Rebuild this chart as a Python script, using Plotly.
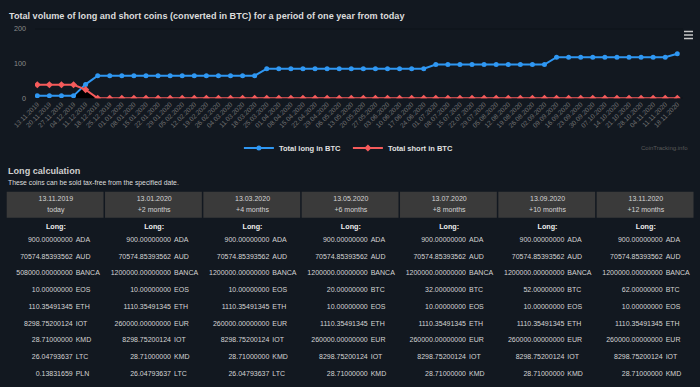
import plotly.graph_objects as go

# ---------------- data ----------------
dates = ["13.11.2019", "20.11.2019", "27.11.2019", "04.12.2019", "11.12.2019", "18.12.2019",
         "25.12.2019", "01.01.2020", "08.01.2020", "15.01.2020", "22.01.2020", "29.01.2020",
         "05.02.2020", "12.02.2020", "19.02.2020", "26.02.2020", "04.03.2020", "11.03.2020",
         "18.03.2020", "25.03.2020", "01.04.2020", "08.04.2020", "15.04.2020", "22.04.2020",
         "29.04.2020", "06.05.2020", "13.05.2020", "20.05.2020", "27.05.2020", "03.06.2020",
         "10.06.2020", "17.06.2020", "24.06.2020", "01.07.2020", "08.07.2020", "15.07.2020",
         "22.07.2020", "29.07.2020", "05.08.2020", "12.08.2020", "19.08.2020", "26.08.2020",
         "02.09.2020", "09.09.2020", "16.09.2020", "23.09.2020", "30.09.2020", "07.10.2020",
         "14.10.2020", "21.10.2020", "28.10.2020", "04.11.2020", "11.11.2020", "18.11.2020"]

total_long = [7, 7, 7, 7, 40, 65, 65, 65, 65, 65, 65, 65, 65, 65, 65, 65, 65, 65, 65,
              85, 85, 85, 85, 85, 85, 85, 85, 85, 85, 85, 85, 85, 85,
              97, 97, 97, 97, 97, 97, 97, 97, 97, 97,
              118, 118, 118, 118, 118, 118, 118, 118, 118, 118, 128]

total_short = [39, 39, 39, 39, 25, 0, 0, 0, 0, 0, 0, 0, 0, 0, 0, 0, 0, 0, 0,
               0, 0, 0, 0, 0, 0, 0, 0, 0, 0, 0, 0, 0, 0,
               0, 0, 0, 0, 0, 0, 0, 0, 0, 0,
               0, 0, 0, 0, 0, 0, 0, 0, 0, 0, 0]

y_ticks = [0, 100, 200]

table_dates = ["13.11.2019", "13.01.2020", "13.03.2020", "13.05.2020", "13.07.2020", "13.09.2020", "13.11.2020"]
table_periods = ["today", "+2 months", "+4 months", "+6 months", "+8 months", "+10 months", "+12 months"]

col_amounts = [
    ["900.00000000", "70574.85393562", "508000.00000000", "10.00000000", "110.35491345",
     "8298.75200124", "28.71000000", "26.04793637", "0.13831659"],
    ["900.00000000", "70574.85393562", "1200000.00000000", "10.00000000", "1110.35491345",
     "260000.00000000", "8298.75200124", "28.71000000", "26.04793637"],
    ["900.00000000", "70574.85393562", "1200000.00000000", "10.00000000", "1110.35491345",
     "260000.00000000", "8298.75200124", "28.71000000", "26.04793637"],
    ["900.00000000", "70574.85393562", "1200000.00000000", "20.00000000", "10.00000000",
     "1110.35491345", "260000.00000000", "8298.75200124", "28.71000000"],
    ["900.00000000", "70574.85393562", "1200000.00000000", "32.00000000", "10.00000000",
     "1110.35491345", "260000.00000000", "8298.75200124", "28.71000000"],
    ["900.00000000", "70574.85393562", "1200000.00000000", "52.00000000", "10.00000000",
     "1110.35491345", "260000.00000000", "8298.75200124", "28.71000000"],
    ["900.00000000", "70574.85393562", "1200000.00000000", "62.00000000", "10.00000000",
     "1110.35491345", "260000.00000000", "8298.75200124", "28.71000000"],
]
col_coins = [
    ["ADA", "AUD", "BANCA", "EOS", "ETH", "IOT", "KMD", "LTC", "PLN"],
    ["ADA", "AUD", "BANCA", "EOS", "ETH", "EUR", "IOT", "KMD", "LTC"],
    ["ADA", "AUD", "BANCA", "EOS", "ETH", "EUR", "IOT", "KMD", "LTC"],
    ["ADA", "AUD", "BANCA", "BTC", "EOS", "ETH", "EUR", "IOT", "KMD"],
    ["ADA", "AUD", "BANCA", "BTC", "EOS", "ETH", "EUR", "IOT", "KMD"],
    ["ADA", "AUD", "BANCA", "BTC", "EOS", "ETH", "EUR", "IOT", "KMD"],
    ["ADA", "AUD", "BANCA", "BTC", "EOS", "ETH", "EUR", "IOT", "KMD"],
]

# ---------------- style ----------------
W, H = 700, 387
BG = "#121820"
BLUE = "#2f97f2"
RED = "#f55b5b"
FONT = "Liberation Sans, Arial, sans-serif"
HEADER_BG = "#3a3a3a"

# plot area (pixels)
PX_L, PX_R, PX_T, PX_B = 35, 683, 28.7, 98.3
X_FIRST, X_LAST = 37.3, 677.3
step = (X_LAST - X_FIRST) / (len(dates) - 1)
x_range = [-(X_FIRST - PX_L) / step, len(dates) - 1 + (PX_R - X_LAST) / step]

# table grid (pixels)
T_LEFT, T_RIGHT = 6.7, 695
ncol = len(table_dates)
col_w = (T_RIGHT - T_LEFT) / ncol
ROW0, ROW_STEP = 240, 16.75

fig = go.Figure()
idx = list(range(len(dates)))

# dark area below the lower series around the point where the two series cross
diff = [a - b for a, b in zip(total_long, total_short)]
fx, fy = [], []
for i in range(len(idx) - 1):
    if diff[i] * diff[i + 1] < 0:
        t = diff[i] / (diff[i] - diff[i + 1])
        fx = [i, i + t, i + 1, i + 2]
        fy = [min(total_long[i], total_short[i]),
              total_long[i] + (total_long[i + 1] - total_long[i]) * t,
              min(total_long[i + 1], total_short[i + 1]),
              min(total_long[i + 2], total_short[i + 2])]
fig.add_trace(go.Scatter(x=fx, y=fy, mode="lines", line=dict(width=0), fill="tozeroy",
                         fillcolor="#000000", showlegend=False, hoverinfo="skip",
                         xaxis="x", yaxis="y"))

fig.add_trace(go.Scatter(
    x=idx, y=total_long, name="Total long in BTC", mode="lines+markers",
    line=dict(color=BLUE, width=2), marker=dict(symbol="circle", size=5, color=BLUE),
    xaxis="x", yaxis="y"))
fig.add_trace(go.Scatter(
    x=idx, y=total_short, name="Total short in BTC", mode="lines+markers",
    line=dict(color=RED, width=2), marker=dict(symbol="diamond", size=5.5, color=RED),
    xaxis="x", yaxis="y"))

# ---------------- table as text traces on a second pair of axes ----------------
amt_x, amt_y, amt_t, coin_x, coin_y, coin_t = [], [], [], [], [], []
for c in range(ncol):
    for r, (a, k) in enumerate(zip(col_amounts[c], col_coins[c])):
        amt_x.append(T_LEFT + c * col_w + 66)
        amt_y.append(ROW0 + r * ROW_STEP)
        amt_t.append(a)
        coin_x.append(T_LEFT + c * col_w + 69)
        coin_y.append(ROW0 + r * ROW_STEP)
        coin_t.append(k)

centers = [T_LEFT + c * col_w + col_w / 2 for c in range(ncol)]
tf = dict(family=FONT, size=7, color="#d4d4d4")
fig.add_trace(go.Scatter(x=amt_x, y=amt_y, text=amt_t, mode="text", textposition="middle left",
                         textfont=tf, showlegend=False, hoverinfo="skip", xaxis="x2", yaxis="y2"))
fig.add_trace(go.Scatter(x=coin_x, y=coin_y, text=coin_t, mode="text", textposition="middle right",
                         textfont=tf, showlegend=False, hoverinfo="skip", xaxis="x2", yaxis="y2"))
fig.add_trace(go.Scatter(x=centers, y=[227] * ncol, text=["<b>Long:</b>"] * ncol, mode="text",
                         textposition="middle center",
                         textfont=dict(family=FONT, size=7.2, color="#eeeeee"),
                         showlegend=False, hoverinfo="skip", xaxis="x2", yaxis="y2"))
fig.add_trace(go.Scatter(x=centers, y=[199.5] * ncol, text=table_dates, mode="text",
                         textposition="middle center", textfont=tf,
                         showlegend=False, hoverinfo="skip", xaxis="x2", yaxis="y2"))
fig.add_trace(go.Scatter(x=centers, y=[210.5] * ncol, text=table_periods, mode="text",
                         textposition="middle center", textfont=tf,
                         showlegend=False, hoverinfo="skip", xaxis="x2", yaxis="y2"))

shapes = []
for c in range(ncol):
    x0 = T_LEFT + c * col_w
    shapes.append(dict(type="rect", xref="x2", yref="y2", x0=x0, x1=x0 + col_w - 1.5,
                       y0=191.7, y1=217.7, fillcolor=HEADER_BG, line=dict(width=0), layer="below"))
# grid lines at 0 and 200
for yv in (0, 200):
    shapes.append(dict(type="line", xref="paper", yref="y", x0=PX_L / W, x1=PX_R / W, y0=yv, y1=yv,
                       line=dict(color="#080b0f", width=1), layer="below"))
# hamburger menu
for dy in (-3.5, 0, 3.5):
    shapes.append(dict(type="line", xref="paper", yref="paper", x0=684 / W, x1=693 / W,
                       y0=1 - (35 + dy) / H, y1=1 - (35 + dy) / H, line=dict(color="#c8c8c8", width=1.5)))

annotations = [
    dict(text="<b>Total volume of long and short coins (converted in BTC) for a period of one year from today</b>",
         x=7 / W, y=1 - 16.5 / H, xref="paper", yref="paper", xanchor="left", yanchor="middle",
         showarrow=False, font=dict(family=FONT, size=9.1, color="#dcdcdc")),
    dict(text="CoinTracking.info", x=690 / W, y=1 - 148 / H, xref="paper", yref="paper",
         xanchor="right", yanchor="middle", showarrow=False,
         font=dict(family=FONT, size=6, color="#5a5a5a")),
    dict(text="<b>Long calculation</b>", x=6 / W, y=1 - 171 / H, xref="paper", yref="paper",
         xanchor="left", yanchor="middle", showarrow=False,
         font=dict(family=FONT, size=9.1, color="#cfcfcf")),
    dict(text="These coins can be sold tax-free from the specified date.", x=6 / W, y=1 - 183 / H,
         xref="paper", yref="paper", xanchor="left", yanchor="middle", showarrow=False,
         font=dict(family=FONT, size=6.8, color="#dddddd")),
]

fig.update_layout(
    width=W, height=H, margin=dict(l=0, r=0, t=0, b=0, pad=0, autoexpand=False),
    paper_bgcolor=BG, plot_bgcolor="rgba(0,0,0,0)",
    font=dict(family=FONT),
    xaxis=dict(domain=[PX_L / W, PX_R / W], range=x_range, tickmode="array", tickvals=idx,
               ticktext=dates, tickangle=-45, tickfont=dict(family=FONT, size=6.6, color="#707070"),
               showgrid=False, zeroline=False, showline=False, ticks="", fixedrange=True,
               automargin=False),
    yaxis=dict(domain=[1 - PX_B / H, 1 - PX_T / H], range=[0, 200], tickvals=y_ticks,
               tickfont=dict(family=FONT, size=7.2, color="#8a8a8a"), showgrid=False,
               zeroline=False, showline=False, ticks="", ticklabelstandoff=8, fixedrange=True,
               automargin=False),
    xaxis2=dict(domain=[0, 1], range=[0, W], visible=False, fixedrange=True, automargin=False),
    yaxis2=dict(domain=[0, 1], range=[H, 0], visible=False, fixedrange=True, automargin=False),
    legend=dict(orientation="h", x=0.497, xanchor="center", y=1 - 148 / H, yanchor="middle",
                font=dict(family=FONT, size=7.5, color="#e0e0e0", weight="bold"),
                bgcolor="rgba(0,0,0,0)", itemwidth=30, entrywidth=64, entrywidthmode="pixels"),
    shapes=shapes, annotations=annotations, showlegend=True,
)

fig.write_html("out.html", config={"displayModeBar": False},
               post_script="document.body.style.margin='0';document.body.style.background='" + BG + "';")
